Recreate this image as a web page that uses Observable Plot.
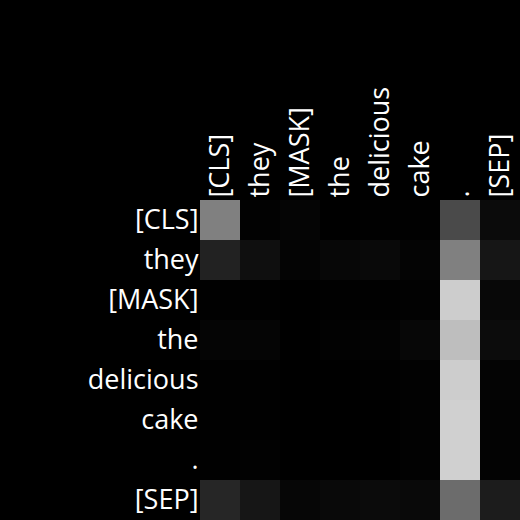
<!DOCTYPE html>
<html>
<head>
<meta charset="utf-8">
<script src="https://cdn.jsdelivr.net/npm/d3@7"></script>
<script src="https://cdn.jsdelivr.net/npm/@observablehq/plot@0.6"></script>
<style>
  html, body { margin: 0; padding: 0; background: #000; }
</style>
</head>
<body>
<div id="chart"></div>
<script>
const tokens = ["[CLS]", "they", "[MASK]", "the", "delicious", "cake", ".", "[SEP]"];
// attention weights (rows = query token, columns = key token), read as grey levels / 255
const rowCLS       = [128, 2, 5, 0, 1, 1, 74, 11];
const rowThey      = [34, 15, 4, 7, 9, 4, 128, 22];
const rowMask      = [1, 1, 0, 1, 1, 2, 205, 8];
const rowThe       = [5, 5, 0, 2, 3, 7, 190, 12];
const rowDelicious = [1, 1, 0, 0, 1, 2, 205, 4];
const rowCake      = [1, 1, 0, 0, 0, 2, 208, 3];
const rowPeriod    = [1, 2, 0, 0, 0, 2, 208, 3];
const rowSEP       = [38, 22, 6, 9, 11, 9, 108, 28];
const rows = [rowCLS, rowThey, rowMask, rowThe, rowDelicious, rowCake, rowPeriod, rowSEP];

const data = [];
rows.forEach((r, i) => r.forEach((v, j) => data.push({row: tokens[i], col: tokens[j], value: v / 255})));

const chart = Plot.plot({
  width: 520,
  height: 520,
  marginLeft: 200,
  marginTop: 200,
  marginRight: 0,
  marginBottom: 0,
  style: {background: "#000", color: "#fff", fontFamily: "Open Sans", fontSize: "27px"},
  x: {domain: tokens, label: null, padding: 0},
  y: {domain: tokens, label: null, padding: 0},
  color: {type: "linear", domain: [0, 1], range: ["#000", "#fff"], interpolate: "rgb"},
  marks: [
    Plot.cell(data, {x: "col", y: "row", fill: "value", inset: 0}),
    Plot.axisX({anchor: "top", tickRotate: -90, tickSize: 0, tickPadding: 3, label: null, fontSize: 27}),
    Plot.axisY({anchor: "left", tickSize: 0, tickPadding: 2, label: null, fontSize: 27})
  ]
});
document.getElementById("chart").appendChild(chart);
</script>
</body>
</html>
